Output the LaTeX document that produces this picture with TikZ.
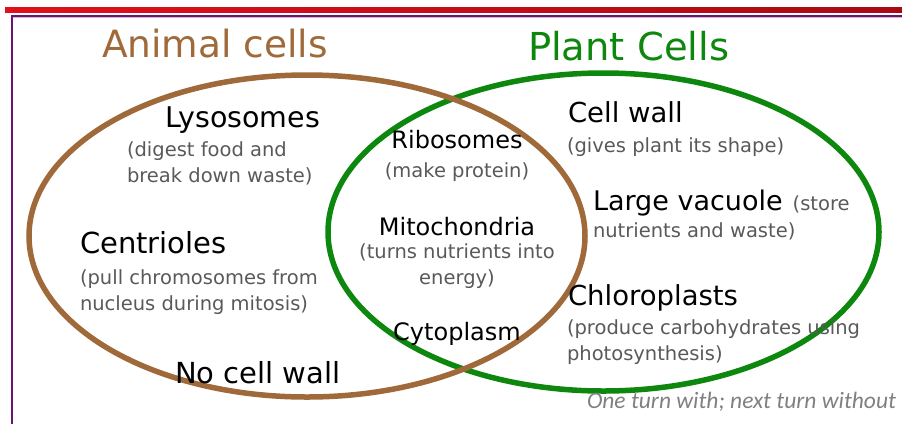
\documentclass[tikz,border=0pt]{standalone}
\usepackage{fontspec}
\setmainfont{DejaVu Sans}
\newfontfamily\notefont{Carlito}
\definecolor{brownc}{HTML}{A0693A}
\definecolor{greenc}{HTML}{0E870E}
\definecolor{greyt}{HTML}{595959}
\definecolor{notec}{HTML}{808080}
\definecolor{purp}{HTML}{6E1272}
\definecolor{redl}{HTML}{E0101C}
\definecolor{redd}{HTML}{A80A14}
\begin{document}
\begin{tikzpicture}[x=1pt,y=-1pt,
  every node/.style={inner sep=0pt, outer sep=0pt},
  title/.style={font=\fontsize{37.5}{38}\selectfont},
  head/.style={font=\fontsize{27.5}{30}\selectfont, text=black},
  midhead/.style={font=\fontsize{24}{28}\selectfont, text=black},
  desc/.style={font=\fontsize{19.5}{26}\selectfont, text=greyt},
  ring/.style={line width=5.5pt}]
\useasboundingbox (0,0) rectangle (902,424);
% frame lines
\shade[left color=redl, right color=redd] (5,7) rectangle (902,12);
\fill[purp] (10.5,15) rectangle (902,17.2);
\fill[purp!30] (12,17.2) rectangle (902,18.2);
\fill[purp] (10.5,15) rectangle (13,424);
% ellipses
\draw[ring, draw=greenc] (603.5,232) ellipse [x radius=275.5, y radius=159];
\draw[ring, draw=brownc] (307,236) ellipse [x radius=278, y radius=161];
% titles
\node[title, text=brownc, anchor=base west] (tanimal) at (102,57) {Animal cells};
\node[title, text=greenc, anchor=base west, font=\fontsize{38.5}{40}\selectfont] (tplant) at (528,60) {Plant Cells};
% animal only
\node[head, anchor=base west, font=\fontsize{28.5}{30}\selectfont] (lyso) at (165,127) {Lysosomes};
\node[desc, anchor=base west, align=left] (lysod) at (127,182) {(digest food and\\break down waste)};
\node[head, anchor=base west, font=\fontsize{29}{30}\selectfont] (cent) at (80,253) {Centrioles};
\node[desc, anchor=base west, align=left] (centd) at (80,310) {(pull chromosomes from\\nucleus during mitosis)};
\node[head, anchor=base west, font=\fontsize{29}{30}\selectfont] (nowall) at (175,383) {No cell wall};
% shared
\node[midhead, anchor=base] (ribo) at (457,148) {Ribosomes};
\node[desc, anchor=base] (ribod) at (457,177) {(make protein)};
\node[midhead, anchor=base] (mito) at (457,235) {Mitochondria};
\node[desc, anchor=base, align=center] (mitod) at (457,284) {(turns nutrients into\\energy)};
\node[midhead, anchor=base] (cyto) at (457,340) {Cytoplasm};
% plant only
\node[head, anchor=base west] (wall) at (568,122) {Cell wall};
\node[desc, anchor=base west] (walld) at (567,152) {(gives plant its shape)};
\node[head, anchor=base west, font=\fontsize{27}{30}\selectfont] (vac) at (593,210) {Large vacuole};
\node[desc, anchor=base west] (vacs) at ([xshift=10pt]vac.base east) {(store};
\node[desc, anchor=base west] (vacd) at (593,237) {nutrients and waste)};
\node[head, anchor=base west] (chl) at (568,305) {Chloroplasts};
\node[desc, anchor=base west, align=left] (chld) at (567,360) {(produce carbohydrates using\\photosynthesis)};
% note
\node[font=\notefont\itshape\fontsize{23.5}{24}\selectfont, text=notec, anchor=base east] (note) at (896,408) {One turn with; next turn without};
\end{tikzpicture}
\end{document}
